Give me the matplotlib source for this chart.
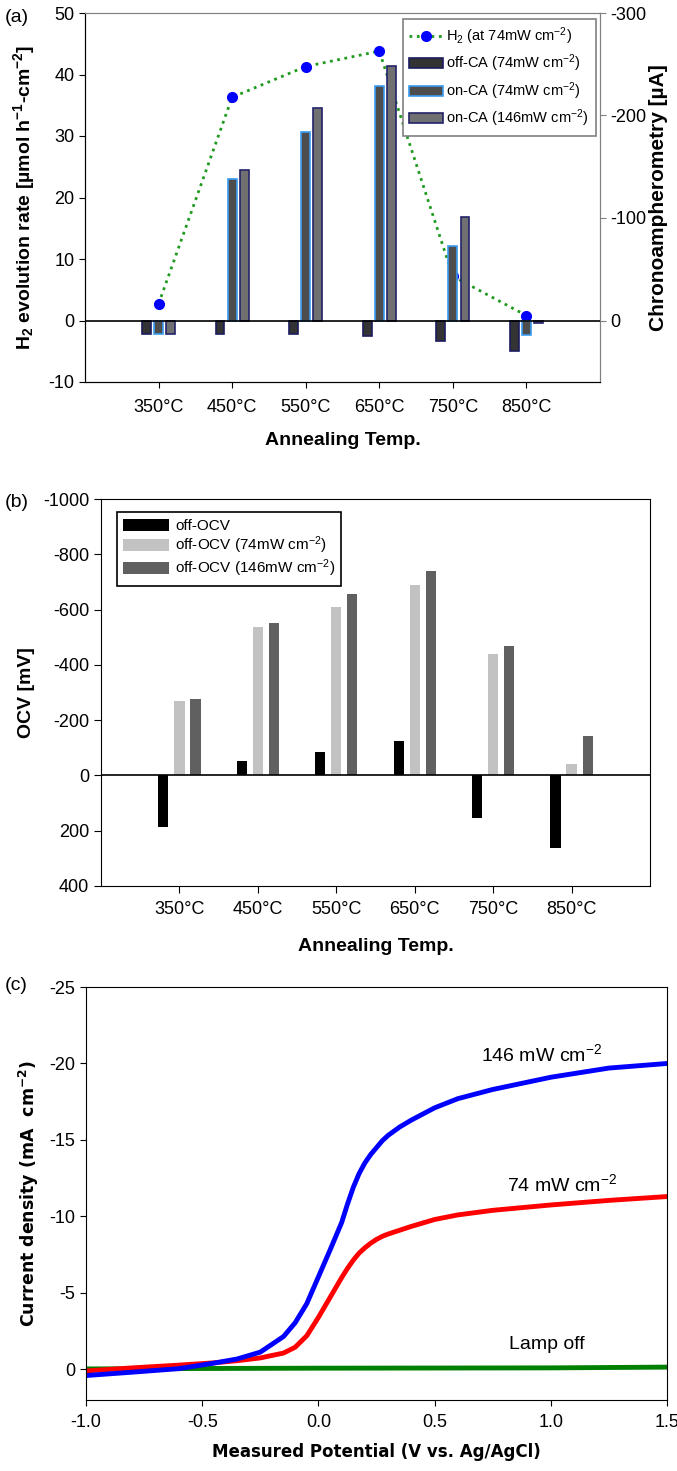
import matplotlib
matplotlib.use("Agg")
import matplotlib.pyplot as plt
import numpy as np
from matplotlib.lines import Line2D
from matplotlib.patches import Patch

plt.rcParams["font.family"] = ["Liberation Sans", "DejaVu Sans"]
plt.rcParams["mathtext.default"] = "regular"
plt.rcParams["axes.unicode_minus"] = False

# ---- Panel (a): H2 evolution + chronoamperometry
temps = ["350\u00b0C", "450\u00b0C", "550\u00b0C", "650\u00b0C", "750\u00b0C", "850\u00b0C"]
h2_rate = [2.7, 36.3, 41.3, 43.8, 7.2, 0.8]            # umol h-1 cm-2
ca_off_74 = [13, 13, 13, 15, 20, 30]                   # uA
ca_on_74 = [13, -138, -184, -229, -73, 14]
ca_on_146 = [13, -147, -207, -248, -101, 2]

# ---- Panel (b): open circuit voltage
ocv_off = [185, -53, -83, -125, 153, 261]              # mV
ocv_74 = [-270, -537, -610, -688, -441, -41]
ocv_146 = [-278, -553, -656, -740, -470, -143]

# ---- Panel (c): photocurrent curves
potential = [-1.0, -0.8, -0.6, -0.45, -0.35, -0.25, -0.15, -0.1, -0.05, 0.0, 0.05,
             0.1, 0.125, 0.15, 0.175, 0.2, 0.225, 0.25, 0.275, 0.3, 0.35, 0.4, 0.5,
             0.6, 0.75, 1.0, 1.25, 1.5]
j_146 = [0.4, 0.18, -0.05, -0.41, -0.68, -1.13, -2.15, -3.05, -4.3, -6.05, -7.8,
         -9.6, -10.8, -11.9, -12.8, -13.5, -14.05, -14.5, -14.95, -15.3, -15.85, -16.3,
         -17.1, -17.7, -18.3, -19.1, -19.7, -20.0]
j_74 = [0.1, -0.1, -0.28, -0.43, -0.57, -0.75, -1.07, -1.45, -2.2, -3.4, -4.7,
        -6.0, -6.6, -7.14, -7.6, -7.95, -8.25, -8.5, -8.7, -8.85, -9.1, -9.35, -9.8,
        -10.1, -10.4, -10.75, -11.05, -11.3]
dark_potential = [-1.0, -0.5, 0.0, 0.5, 1.0, 1.5]
j_dark = [-0.03, -0.06, -0.08, -0.09, -0.1, -0.15]

W, H = 677, 1471


def box(left, right, top, bottom):
    return [left / W, 1 - bottom / H, (right - left) / W, (bottom - top) / H]


def main():
    fig = plt.figure(figsize=(W / 100, H / 100), dpi=100)
    x = np.arange(len(temps))
    bw = 0.12
    off = 0.165

    # ---- (a)
    ax = fig.add_axes(box(85, 600, 13, 382))
    ax.plot(x, h2_rate, ls=":", color="#1f9a1f", lw=2, marker="o", ms=7,
            mfc="#0000ff", mec="#0000ff", zorder=1)
    ax.set_xlim(-1, 6)
    ax.set_ylim(-10, 50)
    ax.set_yticks(np.arange(-10, 51, 10))
    ax.set_xticks(x, temps)
    ax.tick_params(labelsize=13, direction="out", length=4)
    ax.tick_params(axis="x", pad=8)
    ax.set_ylabel("H$_2$ evolution rate [\u00b5mol h$^{-1}$-cm$^{-2}$]",
                  weight="bold", fontsize=14, labelpad=8)
    ax.set_xlabel("Annealing Temp.", weight="bold", fontsize=14, labelpad=12)
    for s in ("top", "right"):
        ax.spines[s].set_color("#808080")

    ax2 = ax.twinx()
    ax2.set_ylim(60, -300)
    ax2.set_yticks([0, -100, -200, -300])
    ax2.bar(x - off, ca_off_74, bw, color="#333333", edgecolor="#1c1c60", lw=1.2)
    ax2.bar(x, ca_on_74, bw, color="#4d4d4d", edgecolor="#3a9cf0", lw=1.2)
    ax2.bar(x + off, ca_on_146, bw, color="#707070", edgecolor="#23236a", lw=1.2)
    ax2.axhline(0, color="black", lw=1.2, zorder=5)
    ax2.tick_params(labelsize=13, color="#808080", length=4)
    ax2.spines["right"].set_color("#808080")
    ax2.spines["top"].set_color("#808080")
    ax2.set_ylabel("Chronoampherometry [\u00b5A]", weight="bold", fontsize=15,
                   labelpad=2)

    handles = [
        Line2D([], [], ls=":", color="#1f9a1f", lw=2, marker="o", ms=7,
               mfc="#0000ff", mec="#0000ff"),
        Patch(facecolor="#333333", edgecolor="#1c1c60", lw=1.2),
        Patch(facecolor="#4d4d4d", edgecolor="#3a9cf0", lw=1.2),
        Patch(facecolor="#707070", edgecolor="#23236a", lw=1.2),
    ]
    labels = ["H$_2$ (at 74mW cm$^{-2}$)", "off-CA (74mW cm$^{-2}$)",
              "on-CA (74mW cm$^{-2}$)", "on-CA (146mW cm$^{-2}$)"]
    leg = ax2.legend(handles, labels, loc="upper right", bbox_to_anchor=(0.997, 0.992),
                     fontsize=10.5, fancybox=False, edgecolor="#808080",
                     handlelength=2.3, handletextpad=0.25, labelspacing=0.4,
                     borderpad=0.45, borderaxespad=0.2, framealpha=1)
    leg.get_frame().set_linewidth(1.2)
    fig.text(5 / W, 1 - 22 / H, "(a)", fontsize=14)

    # ---- (b)
    bx = fig.add_axes(box(101, 650, 499, 886))
    bw_b = 0.13
    off_b = 0.205
    bx.bar(x - off_b, ocv_off, bw_b, color="black", label="off-OCV")
    bx.bar(x, ocv_74, bw_b, color="#c2c2c2", label="off-OCV (74mW cm$^{-2}$)")
    bx.bar(x + off_b, ocv_146, bw_b, color="#606060", label="off-OCV (146mW cm$^{-2}$)")
    bx.axhline(0, color="black", lw=1.2)
    bx.set_xlim(-1, 6)
    bx.set_ylim(400, -1000)
    bx.set_yticks(np.arange(-1000, 401, 200))
    bx.set_xticks(x, temps)
    bx.tick_params(labelsize=13, direction="out", length=5)
    bx.tick_params(axis="x", pad=6)
    bx.set_ylabel("OCV [mV]", weight="bold", fontsize=14, labelpad=6)
    bx.set_xlabel("Annealing Temp.", weight="bold", fontsize=14, labelpad=14)
    leg = bx.legend(loc="upper left", bbox_to_anchor=(0.015, 0.985), fontsize=11,
                    fancybox=False, edgecolor="black", handlelength=3.0,
                    handleheight=0.9, handletextpad=0.4, labelspacing=0.1,
                    borderpad=0.4, framealpha=1)
    leg.get_frame().set_linewidth(1.2)
    fig.text(5 / W, 1 - 507 / H, "(b)", fontsize=14)

    # ---- (c)
    cx = fig.add_axes(box(86, 667, 987, 1400))
    cx.plot(dark_potential, j_dark, color="#008000", lw=3.5)
    cx.plot(potential, j_74, color="#ff0000", lw=3.5)
    cx.plot(potential, j_146, color="#0000ff", lw=3.5)
    cx.set_xlim(-1.0, 1.5)
    cx.set_ylim(2, -25)
    cx.set_yticks([0, -5, -10, -15, -20, -25])
    cx.set_xticks([-1.0, -0.5, 0.0, 0.5, 1.0, 1.5],
                  ["-1.0", "-0.5", "0.0", "0.5", "1.0", "1.5"])
    cx.tick_params(labelsize=13, direction="out", length=4)
    cx.tick_params(axis="x", pad=6)
    cx.set_ylabel("Current density (mA  cm$^{-2}$)", family="DejaVu Sans",
                  weight="bold", fontsize=12.5, labelpad=6)
    cx.set_xlabel("Measured Potential (V vs. Ag/AgCl)", family="DejaVu Sans",
                  weight="bold", fontsize=12, labelpad=9)
    cx.text(0.70, -20.6, "146 mW cm$^{-2}$", fontsize=14, va="center")
    cx.text(0.81, -12.1, "74 mW cm$^{-2}$", fontsize=14, va="center")
    cx.text(0.82, -1.65, "Lamp off", fontsize=14, va="center")
    fig.text(5 / W, 1 - 990 / H, "(c)", fontsize=14)

    fig.savefig("out.png", dpi=100)
    plt.close(fig)


if __name__ == "__main__":
    main()
